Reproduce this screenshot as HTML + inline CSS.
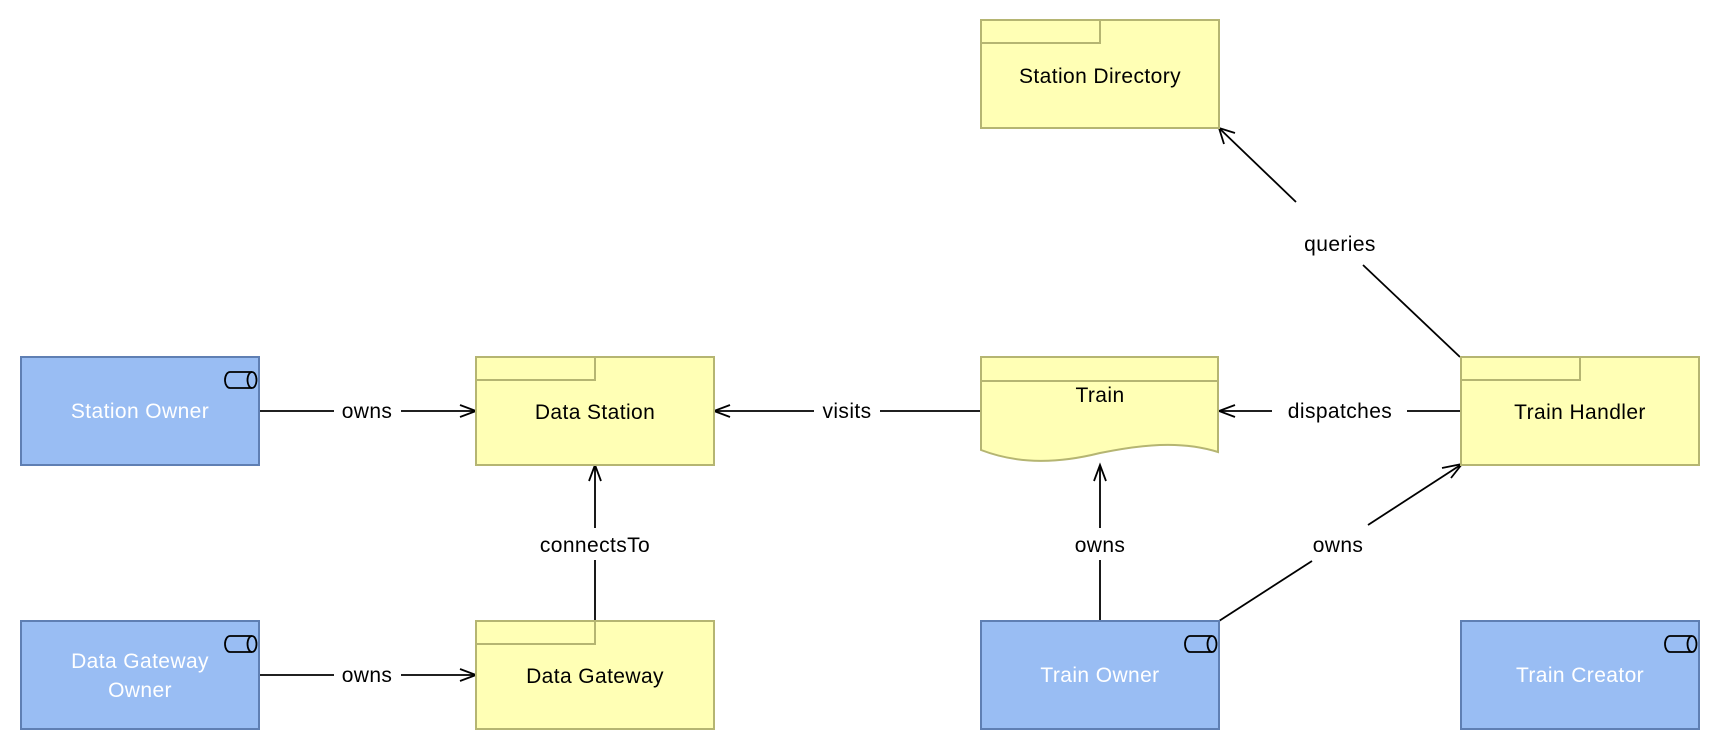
<!DOCTYPE html>
<html><head><meta charset="utf-8"><style>
html,body{margin:0;padding:0;background:#fff;}
svg text{font-family:"Liberation Sans",sans-serif;font-size:21px;letter-spacing:0.4px;}
</style></head><body>
<svg width="1720" height="750" viewBox="0 0 1720 750" xmlns="http://www.w3.org/2000/svg">
<defs>
<g id="cyl"><path d="M6,0 H28 M6,16 H28 M6,0 A5,8 0 0 0 6,16" fill="none" stroke="#000" stroke-width="1.8"/><ellipse cx="28" cy="8" rx="4.5" ry="8" fill="none" stroke="#000" stroke-width="1.8"/></g>
</defs>
<g stroke="#000" stroke-width="1.8" fill="none">
<line x1="259" y1="411" x2="334" y2="411"/><line x1="401" y1="411" x2="476" y2="411"/>
<polyline points="460,405 476,411 460,417"/>
<line x1="259" y1="675" x2="334" y2="675"/><line x1="401" y1="675" x2="476" y2="675"/>
<polyline points="460,669 476,675 460,681"/>
<line x1="595" y1="621" x2="595" y2="560"/><line x1="595" y1="528" x2="595" y2="465"/>
<polyline points="589,481 595,465 601,481"/>
<line x1="980" y1="411" x2="880" y2="411"/><line x1="814" y1="411" x2="714" y2="411"/>
<polyline points="730,405 714,411 730,417"/>
<line x1="1460" y1="411" x2="1407" y2="411"/><line x1="1272" y1="411" x2="1219" y2="411"/>
<polyline points="1235,405 1219,411 1235,417"/>
<line x1="1100" y1="621" x2="1100" y2="560"/><line x1="1100" y1="528" x2="1100" y2="465"/>
<polyline points="1094,481 1100,465 1106,481"/>
<line x1="1219" y1="621" x2="1312" y2="561"/><line x1="1368" y1="525" x2="1462" y2="464"/>
<polyline points="1442,468 1462,464 1451,478"/>
<line x1="1460" y1="357" x2="1363" y2="265"/><line x1="1296" y1="202" x2="1219" y2="128"/>
<polyline points="1224,144 1219,128 1235,133"/>
</g>
<g text-anchor="middle">
<text x="367" y="418">owns</text>
<text x="367" y="682">owns</text>
<text x="595" y="552">connectsTo</text>
<text x="847" y="418">visits</text>
<text x="1340" y="418">dispatches</text>
<text x="1100" y="552">owns</text>
<text x="1338" y="552">owns</text>
<text x="1340" y="251">queries</text>
</g>
<g fill="#99bdf3" stroke="#5f7fb3" stroke-width="2">
<rect x="21" y="357" width="238" height="108"/>
<rect x="21" y="621" width="238" height="108"/>
<rect x="981" y="621" width="238" height="108"/>
<rect x="1461" y="621" width="238" height="108"/>
</g>
<use href="#cyl" x="224" y="372"/>
<use href="#cyl" x="224" y="636"/>
<use href="#cyl" x="1184" y="636"/>
<use href="#cyl" x="1664" y="636"/>
<g fill="#fff" text-anchor="middle">
<text x="140" y="418">Station Owner</text>
<text x="140" y="668">Data Gateway</text>
<text x="140" y="697">Owner</text>
<text x="1100" y="682">Train Owner</text>
<text x="1580" y="682">Train Creator</text>
</g>
<g fill="#ffffb5" stroke="#b5b572" stroke-width="2">
<rect x="476" y="357" width="238" height="108"/><path d="M476,380 H595 V357" fill="none"/>
<rect x="476" y="621" width="238" height="108"/><path d="M476,644 H595 V621" fill="none"/>
<rect x="981" y="20" width="238" height="108"/><path d="M981,43 H1100 V20" fill="none"/>
<rect x="1461" y="357" width="238" height="108"/><path d="M1461,380 H1580 V357" fill="none"/>
<path d="M981,357 H1218 V452 C1180,440 1140,445 1100,453 C1060,463 1020,465 981,450 Z"/>
<line x1="981" y1="381" x2="1218" y2="381"/>
</g>
<g fill="#000" text-anchor="middle">
<text x="595" y="419">Data Station</text>
<text x="595" y="683">Data Gateway</text>
<text x="1100" y="83">Station Directory</text>
<text x="1580" y="419">Train Handler</text>
<text x="1100" y="402">Train</text>
</g>
</svg>
</body></html>
